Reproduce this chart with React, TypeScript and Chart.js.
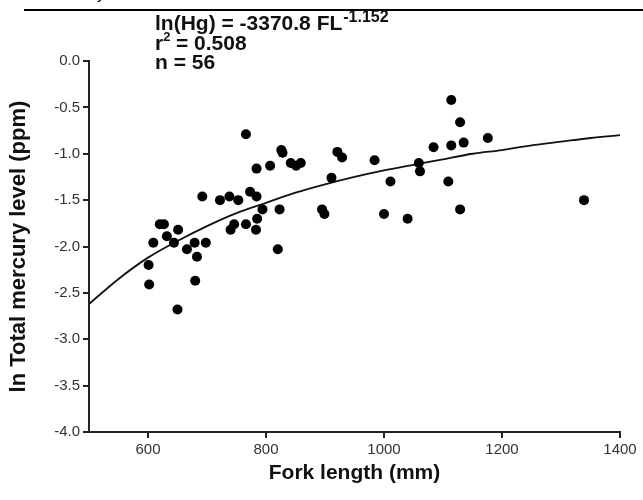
import React, { useEffect, useRef } from "react";
import { Chart, registerables } from "chart.js";

Chart.register(...registerables);

// Observed data: fork length (mm) vs ln total mercury (ppm)
const forkLength: number[] = [
  766, 826, 828, 842, 851, 859, 807, 784, 921, 929,
  911, 692, 722, 738, 753, 773, 784, 794, 823, 895,
  899, 785, 766, 746, 740, 783, 820, 620, 627, 651,
  632, 609, 644, 666, 679, 698, 683, 601, 602, 680,
  650, 984, 1011, 1000, 1040, 1059, 1061, 1084, 1114, 1129,
  1114, 1135, 1109, 1129, 1176, 1339,
];
const lnHg: number[] = [
  -0.79, -0.96, -0.99, -1.10, -1.13, -1.10, -1.13, -1.16, -0.98, -1.04,
  -1.26, -1.46, -1.50, -1.46, -1.50, -1.41, -1.46, -1.60, -1.60, -1.60,
  -1.65, -1.70, -1.76, -1.76, -1.82, -1.82, -2.03, -1.76, -1.76, -1.82,
  -1.89, -1.96, -1.96, -2.03, -1.96, -1.96, -2.11, -2.20, -2.41, -2.37,
  -2.68, -1.07, -1.30, -1.65, -1.70, -1.10, -1.19, -0.93, -0.42, -0.66,
  -0.91, -0.88, -1.30, -1.60, -0.83, -1.50,
];

// Fitted curve ln(Hg) = -3370.8 FL^-1.152, values read at these lengths
const fitLength: number[] = [
  500, 550, 600, 650, 700, 750, 800, 850, 900, 950,
  1000, 1050, 1100, 1150, 1200, 1250, 1300, 1350, 1400,
];
const fitValue: number[] = [
  -2.62, -2.35, -2.12, -1.94, -1.78, -1.64, -1.53, -1.42, -1.33, -1.25,
  -1.18, -1.12, -1.06, -1.00, -0.96, -0.91, -0.87, -0.83, -0.80,
];

const xTicks: number[] = [600, 800, 1000, 1200, 1400];
const yTicks: number[] = [-4.0, -3.5, -3.0, -2.5, -2.0, -1.5, -1.0, -0.5, 0.0];

const annotationLines: string[] = ["ln(Hg) = -3370.8 FL", "r", "n = 56"];

const FONT = "'Liberation Sans', Arial, Helvetica, sans-serif";

const overlayPlugin = {
  id: "overlay",
  afterDraw(chart: any) {
    const ctx = chart.ctx as CanvasRenderingContext2D;
    ctx.save();
    // top rule
    ctx.fillStyle = "#000";
    ctx.fillRect(24, 9, 643 - 24, 2);
    // cut-off glyph above the rule
    ctx.font = `16px ${FONT}`;
    ctx.textBaseline = "alphabetic";
    ctx.textAlign = "left";
    ctx.fillText("y", 97, -1);

    // annotation
    const x0 = 155;
    ctx.fillStyle = "#111";
    ctx.font = `bold 21px ${FONT}`;
    ctx.fillText(annotationLines[0], x0, 30);
    const w0 = ctx.measureText(annotationLines[0]).width;
    ctx.font = `bold 16px ${FONT}`;
    ctx.fillText("-1.152", x0 + w0 + 1, 22);

    ctx.font = `bold 21px ${FONT}`;
    ctx.fillText(annotationLines[1], x0, 50);
    const wr = ctx.measureText("r").width;
    ctx.font = `bold 13px ${FONT}`;
    ctx.fillText("2", x0 + wr, 41);
    ctx.font = `bold 21px ${FONT}`;
    ctx.fillText(" = 0.508", x0 + wr + 7, 50);

    ctx.fillText(annotationLines[2], x0, 69);
    ctx.restore();
  },
};

export default function App() {
  const ref = useRef<HTMLCanvasElement | null>(null);

  useEffect(() => {
    if (!ref.current) return;
    const points = forkLength.map((x, i) => ({ x, y: lnHg[i] }));
    const fit = fitLength.map((x, i) => ({ x, y: fitValue[i] }));
    const chart = new Chart(ref.current, {
      type: "scatter",
      data: {
        datasets: [
          {
            label: "Observed",
            data: points,
            backgroundColor: "#000",
            borderColor: "#000",
            borderWidth: 0,
            pointRadius: 5,
            showLine: false,
          },
          {
            label: "Fit",
            data: fit,
            showLine: true,
            borderColor: "#111",
            borderWidth: 1.8,
            pointRadius: 0,
            cubicInterpolationMode: "monotone",
            fill: false,
          } as any,
        ],
      },
      options: {
        responsive: false,
        animation: false,
        devicePixelRatio: 1,
        layout: { padding: { left: 0, right: 23, top: 61, bottom: 0 } },
        plugins: { legend: { display: false }, tooltip: { enabled: false } },
        scales: {
          x: {
            type: "linear",
            min: 500,
            max: 1400,
            afterFit: (s: any) => {
              s.height = 68;
            },
            afterBuildTicks: (s: any) => {
              s.ticks = xTicks.map((v) => ({ value: v }));
            },
            border: { display: true, color: "#222", width: 2 },
            grid: {
              display: true,
              drawOnChartArea: false,
              drawTicks: true,
              tickLength: 6,
              color: "#222",
              lineWidth: 2,
            },
            ticks: {
              color: "#333",
              font: { family: FONT, size: 15 },
              padding: 3,
              callback: (v: any) => String(v),
            },
            title: {
              display: true,
              text: "Fork length (mm)",
              color: "#111",
              font: { family: FONT, size: 21, weight: "bold" },
              padding: { top: 0, bottom: 14 },
            },
          },
          y: {
            type: "linear",
            min: -4,
            max: 0,
            afterFit: (s: any) => {
              s.width = 89;
            },
            afterBuildTicks: (s: any) => {
              s.ticks = yTicks.map((v) => ({ value: v }));
            },
            border: { display: true, color: "#222", width: 2 },
            grid: {
              display: true,
              drawOnChartArea: false,
              drawTicks: true,
              tickLength: 6,
              color: "#222",
              lineWidth: 2,
            },
            ticks: {
              color: "#333",
              font: { family: FONT, size: 15 },
              padding: 3,
              callback: (v: any) => Number(v).toFixed(1),
            },
            title: {
              display: true,
              text: "ln Total mercury level (ppm)",
              color: "#111",
              font: { family: FONT, size: 22, weight: "bold" },
              padding: { top: 6, bottom: 0 },
            },
          },
        },
      },
      plugins: [overlayPlugin],
    });
    return () => chart.destroy();
  }, []);

  return (
    <div style={{ position: "fixed", left: 0, top: 0, width: 643, height: 500, background: "#fff" }}>
      <canvas ref={ref} width={643} height={500} style={{ width: 643, height: 500, display: "block" }} />
    </div>
  );
}
